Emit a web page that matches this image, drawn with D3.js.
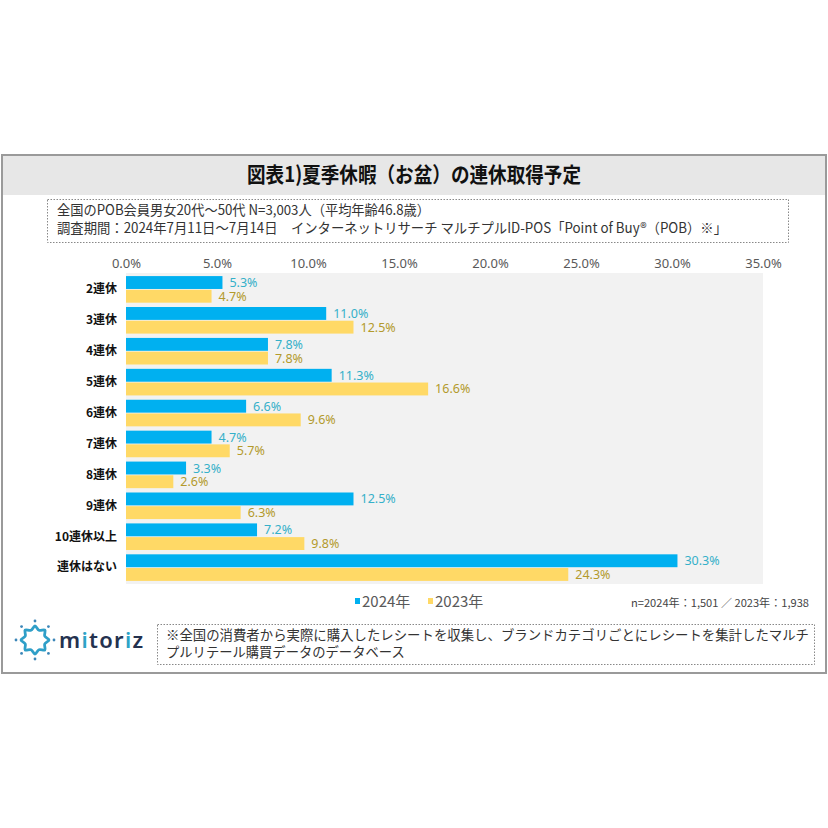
<!DOCTYPE html>
<html><head><meta charset="utf-8">
<script src="https://cdn.jsdelivr.net/npm/d3@7"></script>
<style>
html,body{margin:0;padding:0;background:#fff;}
svg{display:block;}
</style></head>
<body>
<svg id="chart" width="828" height="828"></svg>
<script>
// ---- data ----
const categories = ["2連休","3連休","4連休","5連休","6連休","7連休","8連休","9連休","10連休以上","連休はない"];
const values2024 = [5.3, 11.0, 7.8, 11.3, 6.6, 4.7, 3.3, 12.5, 7.2, 30.3];
const values2023 = [4.7, 12.5, 7.8, 16.6, 9.6, 5.7, 2.6, 6.3, 9.8, 24.3];
const seriesNames = ["2024年", "2023年"];
const tickValues = [0, 5, 10, 15, 20, 25, 30, 35];
const titleText = "図表1)夏季休暇（お盆）の連休取得予定";
const noteLines = ["全国のPOB会員男女20代～50代 N=3,003人（平均年齢46.8歳）",
  "調査期間：2024年7月11日～7月14日　インターネットリサーチ マルチプルID-POS「Point of Buy®（POB）※」"];
const sampleText = "n=2024年：1,501 ／ 2023年：1,938";
const footLines = ["※全国の消費者から実際に購入したレシートを収集し、ブランドカテゴリごとにレシートを集計したマルチ",
  "プルリテール購買データのデータベース"];

const colors = ["#00B0F0", "#FFD966"];
const labelColors = ["#35b0c9", "#b39a2c"];
const jp = "'Noto Sans CJK JP','Noto Sans',sans-serif";

const svg = d3.select("#chart");

// frame
svg.append("rect").attr("x", 2).attr("y", 155).attr("width", 824).attr("height", 518)
  .attr("fill", "#fff").attr("stroke", "#9a9a9a").attr("stroke-width", 2);
svg.append("rect").attr("x", 3).attr("y", 156).attr("width", 822).attr("height", 39)
  .attr("fill", "#e7e7e7");
svg.append("text").attr("x", 414).attr("y", 182).attr("text-anchor", "middle")
  .attr("font-family", jp).attr("font-weight", 700).attr("font-size", 21)
  .attr("textLength", 334).attr("lengthAdjust", "spacingAndGlyphs")
  .attr("fill", "#111").text(titleText);

// note box
svg.append("rect").attr("x", 47.5).attr("y", 199.5).attr("width", 741).attr("height", 43)
  .attr("fill", "none").attr("stroke", "#888").attr("stroke-width", 1).attr("stroke-dasharray", "1.5,1.5");
const noteLens = [373, 670];
noteLines.forEach((t, i) => {
  svg.append("text").attr("x", 57).attr("y", 215 + i * 17.7)
    .attr("font-family", jp).attr("font-size", 14).attr("fill", "#333")
    .attr("textLength", noteLens[i]).attr("lengthAdjust", "spacingAndGlyphs").text(t);
});

// scales
const x = d3.scaleLinear().domain([0, 35]).range([126, 763]);
const y0 = d3.scaleBand().domain(categories).range([273, 584]).paddingInner(0.14).paddingOuter(0.1);
const y1 = d3.scaleBand().domain([0, 1]).range([0, y0.bandwidth()]).paddingInner(0.06);

// plot background
svg.append("rect").attr("x", x(0)).attr("y", 273).attr("width", x(35) - x(0)).attr("height", 311)
  .attr("fill", "#f2f2f2");

// x axis (top)
const xAxis = svg.append("g").attr("transform", "translate(0,273)")
  .call(d3.axisTop(x).tickValues(tickValues).tickSize(0).tickPadding(5).tickFormat(d => d.toFixed(1) + "%"));
xAxis.select(".domain").remove();
xAxis.selectAll("text").attr("font-family", "'Noto Sans',sans-serif").attr("font-size", 13).attr("fill", "#595959");

// y axis
const yAxis = svg.append("g").attr("transform", "translate(126,0)")
  .call(d3.axisLeft(y0).tickSize(0).tickPadding(9));
yAxis.select(".domain").remove();
yAxis.selectAll("text").attr("font-family", jp).attr("font-size", 12).attr("font-weight", 700).attr("fill", "#111");

// bars
const rows = categories.map((c, i) => ({ cat: c, vals: [values2024[i], values2023[i]] }));
const groups = svg.append("g").selectAll("g").data(rows).join("g")
  .attr("transform", d => `translate(0,${y0(d.cat)})`);
groups.selectAll("rect").data(d => d.vals.map((v, k) => ({ v, k }))).join("rect")
  .attr("x", x(0)).attr("y", d => y1(d.k)).attr("height", y1.bandwidth())
  .attr("width", d => x(d.v) - x(0)).attr("fill", d => colors[d.k]);
groups.selectAll("text").data(d => d.vals.map((v, k) => ({ v, k }))).join("text")
  .attr("x", d => x(d.v) + 7).attr("y", d => y1(d.k) + y1.bandwidth() / 2)
  .attr("dy", "0.36em").attr("font-family", "'Noto Sans',sans-serif").attr("font-size", 12.5)
  .attr("font-weight", 400).attr("fill", d => labelColors[d.k]).text(d => d.v.toFixed(1) + "%");

// legend
const legX = [355, 428];
seriesNames.forEach((s, k) => {
  svg.append("rect").attr("x", legX[k]).attr("y", 598).attr("width", 5).attr("height", 6).attr("fill", colors[k]);
  svg.append("text").attr("x", legX[k] + 7).attr("y", 607).attr("font-family", jp).attr("font-size", 15)
    .attr("fill", "#595959").text(s);
});
svg.append("text").attr("x", 809).attr("y", 607).attr("text-anchor", "end")
  .attr("font-family", jp).attr("font-size", 11).attr("fill", "#444")
  .attr("textLength", 178).attr("lengthAdjust", "spacingAndGlyphs").text(sampleText);

// footer box
svg.append("rect").attr("x", 157.5).attr("y", 624.5).attr("width", 657).attr("height", 40)
  .attr("fill", "none").attr("stroke", "#888").attr("stroke-width", 1).attr("stroke-dasharray", "1.5,1.5");
const footLens = [643, 0];
footLines.forEach((t, i) => {
  const tx = svg.append("text").attr("x", 166).attr("y", 640 + i * 17)
    .attr("font-family", jp).attr("font-size", 13.3).attr("fill", "#333").text(t);
  if (footLens[i]) tx.attr("textLength", footLens[i]).attr("lengthAdjust", "spacingAndGlyphs");
});

// logo
const cx = 35, cy = 640;
const pts = d3.range(16).map(i => [i * Math.PI / 8, i % 2 === 0 ? 14 : 10.5]);
svg.append("path").attr("transform", `translate(${cx},${cy})`)
  .attr("d", d3.lineRadial().curve(d3.curveCatmullRomClosed)(pts))
  .attr("fill", "none").attr("stroke", "#2f9fc8").attr("stroke-width", 2.8);
d3.range(8).forEach(i => {
  const a = i * Math.PI / 4;
  svg.append("circle").attr("cx", cx + 19 * Math.sin(a)).attr("cy", cy - 19 * Math.cos(a)).attr("r", 1.4)
    .attr("fill", "#3c86b8");
});
const logo = svg.append("text").attr("x", 59).attr("y", 648).attr("font-family", "'Noto Sans',sans-serif")
  .attr("font-size", 22).attr("font-weight", 600).attr("letter-spacing", 1.3).attr("fill", "#24324f");
[["m", "#24324f"], ["i", "#2ea3c6"], ["tor", "#24324f"], ["i", "#2ea3c6"], ["z", "#24324f"]]
  .forEach(([t, c]) => logo.append("tspan").attr("fill", c).text(t));
</script>
</body></html>
